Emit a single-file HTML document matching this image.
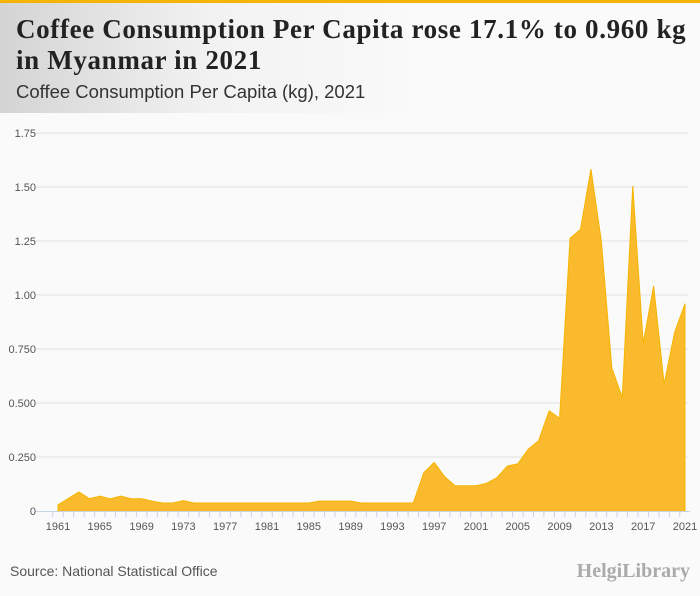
<!DOCTYPE html>
<html><head><meta charset="utf-8"><style>
body{margin:0;width:700px;height:596px;background:#fafafa;font-family:"Liberation Serif",serif;overflow:hidden}
#hdr{position:absolute;left:0;top:0;width:700px;height:113px;background:linear-gradient(90deg,#d4d4d4 0%,#f2f2f2 30%,#fafafa 60%)}
#bar{position:absolute;left:0;top:0;width:700px;height:3px;background:#f6b400}
h1{position:absolute;left:16px;top:14px;margin:0;font-size:27px;line-height:31px;font-weight:bold;color:#222;letter-spacing:0.65px}
h2{position:absolute;left:16px;top:81px;margin:0;font-size:18.5px;font-weight:normal;color:#333;font-family:"Liberation Sans",sans-serif}
#src{position:absolute;left:10px;top:563px;font:14px "Liberation Sans",sans-serif;color:#555}
#logo{position:absolute;right:10px;top:560px;font:bold 20px "Liberation Serif",serif;color:#aaa}
svg{position:absolute;left:0;top:0}
</style></head><body>
<div id="hdr"></div>
<div id="bar"></div>
<h1>Coffee Consumption Per Capita rose 17.1% to 0.960 kg<br>in Myanmar in 2021</h1>
<h2>Coffee Consumption Per Capita (kg), 2021</h2>
<svg id="chart" width="700" height="596"></svg>
<div id="src">Source: National Statistical Office</div>
<div id="logo">HelgiLibrary</div>
<script>
const years=[];for(let y=1961;y<=2021;y++)years.push(y);
const values=[0.028,0.058,0.088,0.057,0.069,0.056,0.069,0.057,0.057,0.046,0.037,0.037,0.048,0.037,0.037,0.037,0.037,0.037,0.037,0.037,0.037,0.037,0.037,0.037,0.037,0.046,0.046,0.046,0.046,0.037,0.037,0.037,0.037,0.037,0.037,0.177,0.225,0.159,0.117,0.117,0.117,0.128,0.154,0.208,0.218,0.286,0.326,0.464,0.429,1.262,1.304,1.583,1.247,0.661,0.526,1.505,0.776,1.042,0.587,0.826,0.960];
const yTicks=[0,0.25,0.5,0.75,1,1.25,1.5,1.75];
const yTickLabels=["0","0.250","0.500","0.750","1.00","1.25","1.50","1.75"];
const NS="http://www.w3.org/2000/svg",svg=document.getElementById('chart');
const x=v=>58+(v-1961)*(627/60), y=v=>511-v*216;
function mk(t,a,p){const e=document.createElementNS(NS,t);for(const k in a)e.setAttribute(k,a[k]);(p||svg).appendChild(e);return e;}
yTicks.forEach((t,i)=>{
 if(t>0){const g=mk('line',{x1:36,x2:688,y1:y(t),y2:y(t),stroke:'#e2e2e2'});
 
 }
 const l=mk('text',{x:36,y:y(t)+4,'text-anchor':'end','font-size':11,fill:'#555','font-family':'Liberation Sans,sans-serif'});l.textContent=yTickLabels[i];
 
 
});
let d='M'+x(years[0])+','+y(0);
years.forEach((yr,i)=>{d+='L'+x(yr)+','+y(values[i]);});
d+='L'+x(years[years.length-1])+','+y(0)+'Z';
const a=mk('path',{d:d,fill:'#f9bb2d',stroke:'#f6b400','stroke-width':1});


const ax=mk('line',{x1:36,x2:690,y1:511.5,y2:511.5,stroke:'#c8d3e6'});


years.forEach((yr,i)=>{
 const t=mk('line',{x1:x(yr)-5.2,x2:x(yr)-5.2,y1:511,y2:517,stroke:'#c8d3e6'});
 
 
 if((yr-1961)%4===0){const l=mk('text',{x:x(yr),y:530,'text-anchor':'middle','font-size':11,fill:'#555','font-family':'Liberation Sans,sans-serif'});l.textContent=yr;
 
 }
});
</script>
</body></html>
